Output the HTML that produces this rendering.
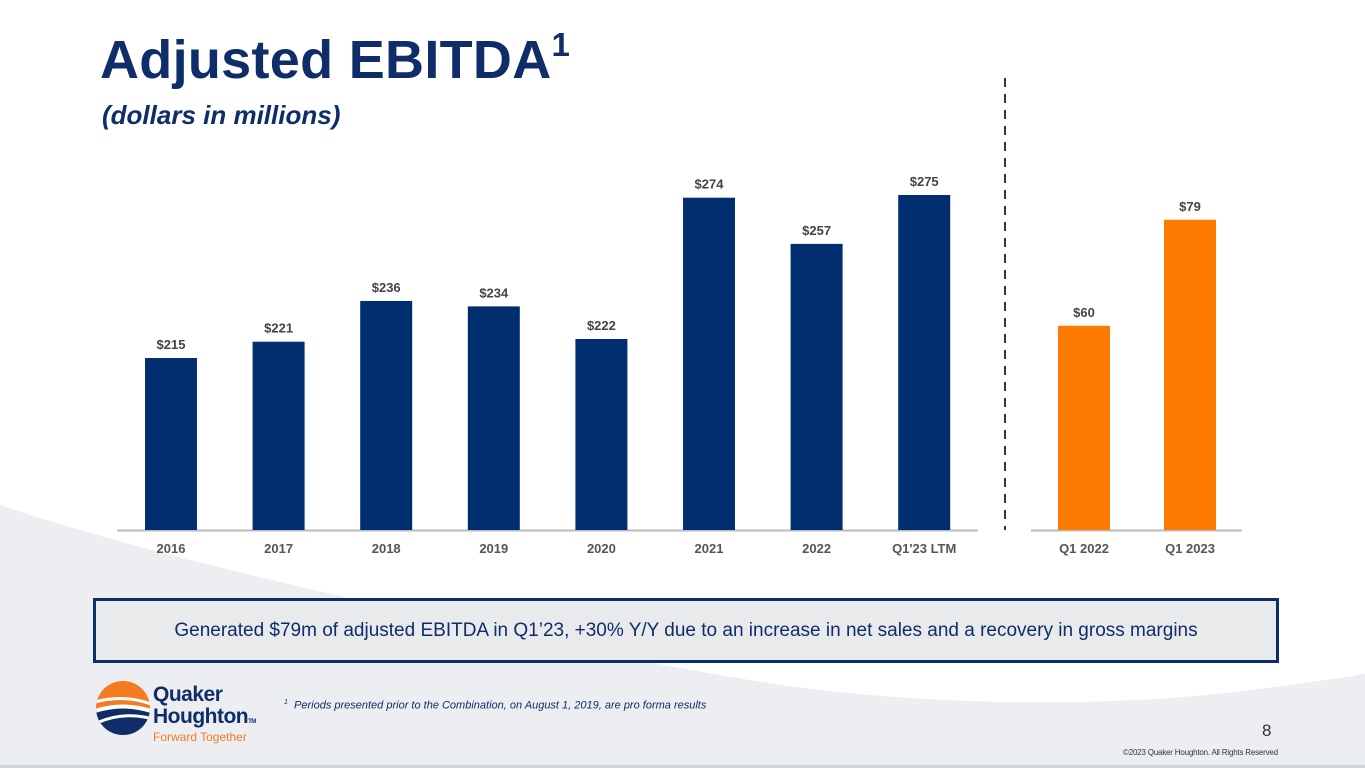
<!DOCTYPE html>
<html><head><meta charset="utf-8"><style>
body{margin:0;width:1365px;height:768px;overflow:hidden;background:#fff;font-family:"Liberation Sans",sans-serif;position:relative}
.abs{position:absolute}
</style></head><body>
<svg class="abs" style="left:0;top:0" width="1365" height="768">
<path d="M0,505 C120,545 250,575 348,598 C480,630 600,655 750,680 C900,705 1100,710 1250,690 C1300,684 1340,678 1365,674 L1365,768 L0,768 Z" fill="#eceef2"/>
<rect x="0" y="765" width="1365" height="3" fill="#cfd3da"/>
</svg>
<div class="abs" style="left:100px;top:26px;font-size:54px;font-weight:bold;color:#0f2d69;letter-spacing:0.3px">Adjusted EBITDA<sup style="font-size:33px;vertical-align:22px">1</sup></div>
<div class="abs" style="left:102px;top:100px;font-size:26px;font-weight:bold;font-style:italic;color:#0f2d69">(dollars in millions)</div>
<svg id="chart" class="abs" style="left:0;top:0" width="1365" height="600"></svg>
<div class="abs" style="left:93px;top:598px;width:1180px;height:59px;border:3px solid #0f2d69;background:#e9eaec;color:#0f2d69;font-size:19px;text-align:center;line-height:59px">Generated $79m of adjusted EBITDA in Q1’23, +30% Y/Y due to an increase in net sales and a recovery in gross margins</div>
<svg class="abs" style="left:95px;top:680px;overflow:visible" width="56" height="56">
<defs><clipPath id="c"><circle cx="28" cy="28" r="27"/></clipPath></defs>
<g clip-path="url(#c)">
<rect x="0" y="0" width="56" height="56" fill="#f47b20"/>
<path d="M0,30 Q28,22 56,30 L56,56 L0,56 Z" fill="#0f2d69"/>
<path d="M0,22 Q28,14 56,24" stroke="#fff" stroke-width="3" fill="none"/>
<path d="M0,31 Q28,22 56,31" stroke="#fff" stroke-width="4" fill="none"/>
<path d="M4,42 Q28,32 54,38" stroke="#fff" stroke-width="3" fill="none"/>
</g>
</svg>
<div class="abs" style="left:153px;top:684px;color:#0f2d69;font-weight:bold;font-size:21px;line-height:22px;letter-spacing:-0.5px">Quaker<br>Houghton<span style="font-size:6px">TM</span></div>
<div class="abs" style="left:153px;top:730px;color:#f47b20;font-size:12px">Forward Together</div>
<div class="abs" style="left:284px;top:699px;font-size:11px;font-style:italic;color:#0f2d69"><sup style="font-size:7px">1</sup>&nbsp; Periods presented prior to the Combination, on August 1, 2019, are pro forma results</div>
<div class="abs" style="left:1262px;top:721px;font-size:17px;color:#333">8</div>
<div class="abs" style="left:1123px;top:748px;font-size:8px;color:#333;letter-spacing:-0.2px">©2023 Quaker Houghton. All Rights Reserved</div>
<script>
const annualCats=["2016","2017","2018","2019","2020","2021","2022","Q1'23 LTM"];
const annualVals=[215,221,236,234,222,274,257,275];
const quarterCats=["Q1 2022","Q1 2023"];
const quarterVals=[60,79];
const NS="http://www.w3.org/2000/svg",svg=document.getElementById('chart');
function mk(t,a){const e=document.createElementNS(NS,t);for(const k in a)e.setAttribute(k,a[k]);svg.appendChild(e);return e;}
const base=530;
function yA(v){return base-(v-151.7)*2.717;}
function yQ(v){return base-(v-23.4)*5.58;}
function group(cats,vals,x0,step,yf,color,pre){
 cats.forEach((c,i)=>{const cx=x0+i*step,y=yf(vals[i]);
  const r=mk('rect',{x:cx-26,y:y,width:52,height:base-y,fill:color});
  
  
  const t=mk('text',{x:cx,y:y-9,'text-anchor':'middle','font-size':13,'font-weight':'bold',fill:'#444'});t.textContent='$'+vals[i];
  
  
  const l=mk('text',{x:cx,y:553,'text-anchor':'middle','font-size':13,'font-weight':'bold',fill:'#555'});l.textContent=c;
  
  
 });
}
const a1=mk('line',{x1:117,x2:978,y1:530.5,y2:530.5,stroke:'#bbb','stroke-width':2});


const a2=mk('line',{x1:1031,x2:1242,y1:530.5,y2:530.5,stroke:'#bbb','stroke-width':2});


const d=mk('line',{x1:1005,x2:1005,y1:78,y2:530,stroke:'#333','stroke-width':2,'stroke-dasharray':'9,7'});


group(annualCats,annualVals,171,107.6,yA,'#002e6e','annual');
group(quarterCats,quarterVals,1084,106,yQ,'#ff7a00','quarter');
</script>
</body></html>
